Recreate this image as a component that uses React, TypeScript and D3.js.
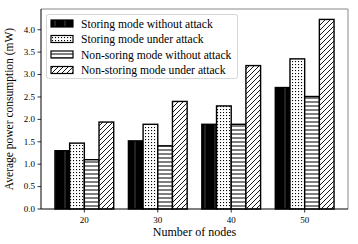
import React from 'react';
import { scaleLinear, max } from 'd3';

const width = 358;
const height = 244;
const margin = { left: 41, right: 10, top: 9, bottom: 35 };

const nodes = ['20', '30', '40', '50'];
const storingNoAttack = [1.3, 1.52, 1.89, 2.71];
const storingAttack = [1.47, 1.89, 2.3, 3.35];
const nonStoringNoAttack = [1.1, 1.41, 1.89, 2.51];
const nonStoringAttack = [1.94, 2.4, 3.2, 4.23];
const seriesNames = [
	'Storing mode without attack',
	'Storing mode under attack',
	'Non-soring mode without attack',
	'Non-storing mode under attack',
];
const yTicks = [0, 0.5, 1, 1.5, 2, 2.5, 3, 3.5, 4];

const series = [storingNoAttack, storingAttack, nonStoringNoAttack, nonStoringAttack];
const fills = ['url(#pBlack)', 'url(#pDots)', 'url(#pHoriz)', 'url(#pDiag)'];
const font = '"Liberation Serif", "DejaVu Serif", serif';

const App = () => {
	const barW = 0.2;
	const x = scaleLinear()
		.domain([-2 * barW - 0.19, nodes.length - 1 + 2 * barW + 0.19])
		.range([margin.left, width - margin.right]);
	const yMax = max(series.flat()) * 1.055;
	const y = scaleLinear().domain([0, yMax]).range([height - margin.bottom, margin.top]);
	const bw = x(barW) - x(0);

	return (
		<svg
			width={width}
			height={height}
			style={{ position: 'absolute', left: 0, top: 0, background: '#fff' }}
			fontFamily={font}
		>
			<defs>
				<pattern id="pBlack" patternUnits="userSpaceOnUse" width="10" height="10">
					<rect width="10" height="10" fill="#000" />
					<line x1="5" y1="0" x2="5" y2="10" stroke="#555" strokeWidth="0.8" />
				</pattern>
				<pattern id="pDots" patternUnits="userSpaceOnUse" width="3" height="3">
					<rect width="3" height="3" fill="#fff" />
					<rect x="1" y="1" width="1.1" height="1.1" fill="#000" />
				</pattern>
				<pattern id="pHoriz" patternUnits="userSpaceOnUse" width="4" height="4">
					<rect width="4" height="4" fill="#fff" />
					<line x1="0" y1="2" x2="4" y2="2" stroke="#000" strokeWidth="1" />
				</pattern>
				<pattern id="pDiag" patternUnits="userSpaceOnUse" width="5" height="5">
					<rect width="5" height="5" fill="#fff" />
					<path d="M0,5 L5,0 M-1,1 L1,-1 M4,6 L6,4" stroke="#000" strokeWidth="0.9" />
				</pattern>
			</defs>

			{series.map((vals, si) =>
				vals.map((v, i) => (
					<rect
						key={`${si}-${i}`}
						x={x(i + (si - 1.5) * barW - barW / 2)}
						y={y(v)}
						width={bw}
						height={y(0) - y(v)}
						fill={fills[si]}
						stroke="#000"
						strokeWidth="1.4"
					/>
				))
			)}

			{/* spines */}
			<line x1={margin.left} y1={margin.top} x2={width - margin.right} y2={margin.top} stroke="#888" />
			<line x1={width - margin.right} y1={margin.top} x2={width - margin.right} y2={y(0)} stroke="#888" />
			<line x1={margin.left} y1={margin.top} x2={margin.left} y2={y(0)} stroke="#000" />
			<line x1={margin.left} y1={y(0)} x2={width - margin.right} y2={y(0)} stroke="#000" />

			{yTicks.map((t) => (
				<g key={t} transform={`translate(${margin.left},${y(t)})`}>
					<line x1="-3.5" x2="0" stroke="#000" strokeWidth="0.8" />
					<text x="-6" dy="0.32em" textAnchor="end" fontSize="9">
						{t.toFixed(1)}
					</text>
				</g>
			))}
			{nodes.map((n, i) => (
				<g key={n} transform={`translate(${x(i)},${y(0)})`}>
					<line y1="0" y2="3.5" stroke="#000" strokeWidth="0.8" />
					<text y="14" textAnchor="middle" fontSize="9">
						{n}
					</text>
				</g>
			))}

			<text x={(margin.left + width - margin.right) / 2} y={236} textAnchor="middle" fontSize="12">
				Number of nodes
			</text>
			<text
				transform={`translate(13,${(margin.top + y(0)) / 2}) rotate(-90)`}
				textAnchor="middle"
				fontSize="11.5"
			>
				Average power consumption (mW)
			</text>

			{/* legend */}
			<rect x="46.5" y="14.5" width="191" height="64" rx="2" fill="#fff" fillOpacity="0.85" stroke="#ccc" strokeWidth="0.8" />
			{seriesNames.map((name, i) => {
				const cy = 23.5 + i * 15.5;
				return (
					<g key={name}>
						<rect x="51" y={cy - 3.5} width="22" height="7" fill={fills[i]} stroke="#000" strokeWidth="1.2" />
						<text x="81" y={cy} dy="0.35em" fontSize="11.6">
							{name}
						</text>
					</g>
				);
			})}
		</svg>
	);
};

export default App;
